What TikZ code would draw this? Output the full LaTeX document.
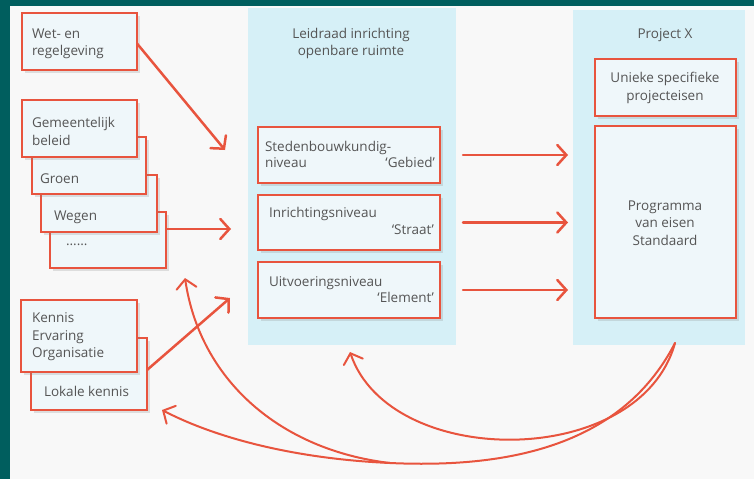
\documentclass[tikz,border=0pt]{standalone}
\usepackage{fontspec}
\setmainfont{Open Sans}
\usetikzlibrary{arrows.meta,shadows}
\definecolor{teal0}{RGB}{0,94,94}
\definecolor{redl}{RGB}{232,84,62}
\definecolor{panelc}{RGB}{214,240,247}
\definecolor{boxf}{RGB}{239,247,250}
\definecolor{txtc}{RGB}{85,85,85}
\definecolor{bgc}{RGB}{248,248,248}
\begin{document}
\begin{tikzpicture}[x=1pt,y=-1pt,
  every node/.style={inner sep=0pt, outer sep=0pt},
  box/.style={draw=redl, line width=2pt, fill=boxf, anchor=north west,
    drop shadow={shadow xshift=3pt, shadow yshift=-3pt, opacity=0.22}},
  panel/.style={fill=panelc, anchor=north west},
  lbl/.style={text=txtc, font=\fontsize{13.5}{17.5}\selectfont, align=left, anchor=north west},
  clbl/.style={text=txtc, font=\fontsize{13.5}{17.5}\selectfont, align=center, anchor=north},
  arr/.style={draw=redl, line width=2.5pt, line cap=round, -{Straight Barb[length=9pt,width=20pt,line cap=round]}},
  carr/.style={draw=redl, line width=2pt, line cap=round, -{Straight Barb[length=9pt,width=20pt,line cap=round]}},
  cline/.style={draw=redl, line width=2pt, line cap=round}]
\useasboundingbox (0,0) rectangle (754,479);
\fill[bgc] (0,0) rectangle (754,479);
\fill[teal0] (0,0) rectangle (10,479);
\fill[teal0] (0,0) rectangle (754,6);

% panels
\node[panel, minimum width=208pt, minimum height=337pt] (mid) at (248,8) {};
\node[panel, minimum width=172pt, minimum height=335pt] (proj) at (573,10) {};
\node[clbl] (midT) at (351,28) {Leidraad inrichting\\openbare ruimte};
\node[clbl] (projT) at (665,28.5) {Project X};

% left column
\node[box, minimum width=115pt, minimum height=57pt] (wet) at (22,13) {};
\node[lbl] (wetT) at (32,28.5) {Wet- en\\regelgeving};

\node[box, minimum width=116pt, minimum height=56pt] (dots) at (50,212) {};
\node[lbl] (dotsT) at (66,244) {......};
\node[box, minimum width=116pt, minimum height=57pt] (wegen) at (41,175) {};
\node[lbl] (wegenT) at (54,210.5) {Wegen};
\node[box, minimum width=114pt, minimum height=57pt] (groen) at (32,137) {};
\node[lbl] (groenT) at (40,173.5) {Groen};
\node[box, minimum width=115pt, minimum height=57pt] (gem) at (22,100) {};
\node[lbl] (gemT) at (32,117.5) {Gemeentelijk\\beleid};

\node[box, minimum width=116pt, minimum height=72pt] (lok) at (31,338) {};
\node[lbl] (lokT) at (44,386) {Lokale kennis};
\node[box, minimum width=116pt, minimum height=72pt] (ken) at (21,300) {};
\node[lbl] (kenT) at (32,313) {Kennis\\Ervaring\\Organisatie};

% middle boxes
\node[box, minimum width=182pt, minimum height=56pt] (sted) at (258,127) {};
\node[lbl, text width=170pt] (stedT) at (265,141.5) {Stedenbouwkundig-\\[-1.5pt]niveau\hfill‘Gebied’};
\node[box, minimum width=182pt, minimum height=55pt] (inr) at (258,195) {};
\node[lbl, text width=165pt] (inrT) at (269,207) {Inrichtingsniveau\\\hfill‘Straat’};
\node[box, minimum width=182pt, minimum height=56pt] (uit) at (258,262) {};
\node[lbl, text width=165pt] (uitT) at (269,277) {Uitvoeringsniveau\\[-1.5pt]\hfill‘Element’};

% right boxes
\node[box, minimum width=141pt, minimum height=57pt] (uniek) at (595,59) {};
\node[clbl] (uniekT) at (665,72.5) {Unieke specifieke\\projecteisen};
\node[box, minimum width=141pt, minimum height=192pt] (prog) at (595,126) {};
\node[clbl] (progT) at (665,200.5) {Programma\\van eisen\\Standaard};

% straight arrows middle -> right
\draw[arr] ([xshift=23pt]sted.east) -- ([xshift=-27pt]prog.west |- sted.east);
\draw[arr] ([xshift=23pt]inr.east) -- ([xshift=-27pt]prog.west |- inr.east);
\draw[arr] ([xshift=23pt]uit.east) -- ([xshift=-27pt]prog.west |- uit.east);

% left arrows
\coordinate (wetEnd) at (225,150);
\coordinate (dotsEnd) at (231,229);
\coordinate (lokEnd) at (230,298);
\draw[arr] ([yshift=-2pt]wet.east) -- (wetEnd);
\draw[arr] ([yshift=11pt]dots.east) -- (dotsEnd);
\draw[arr] ([yshift=4pt]lok.east) -- (lokEnd);

% feedback curves
\coordinate (cStart) at (675,343);
\coordinate (cFork) at (390,463);
\coordinate (cMid) at (350,352);
\coordinate (cLok) at (162,410);
\coordinate (cUp) at (185,278);
\draw[carr] (cStart) .. controls (640,470) and (390,470) .. (cMid);
\draw[cline] (cStart) .. controls (620,450) and (500,468) .. (cFork);
\draw[carr] (cFork) .. controls (300,459) and (220,440) .. (cLok);
\draw[carr] (cFork) .. controls (280,450) and (200,380) .. (cUp);
\end{tikzpicture}
\end{document}
